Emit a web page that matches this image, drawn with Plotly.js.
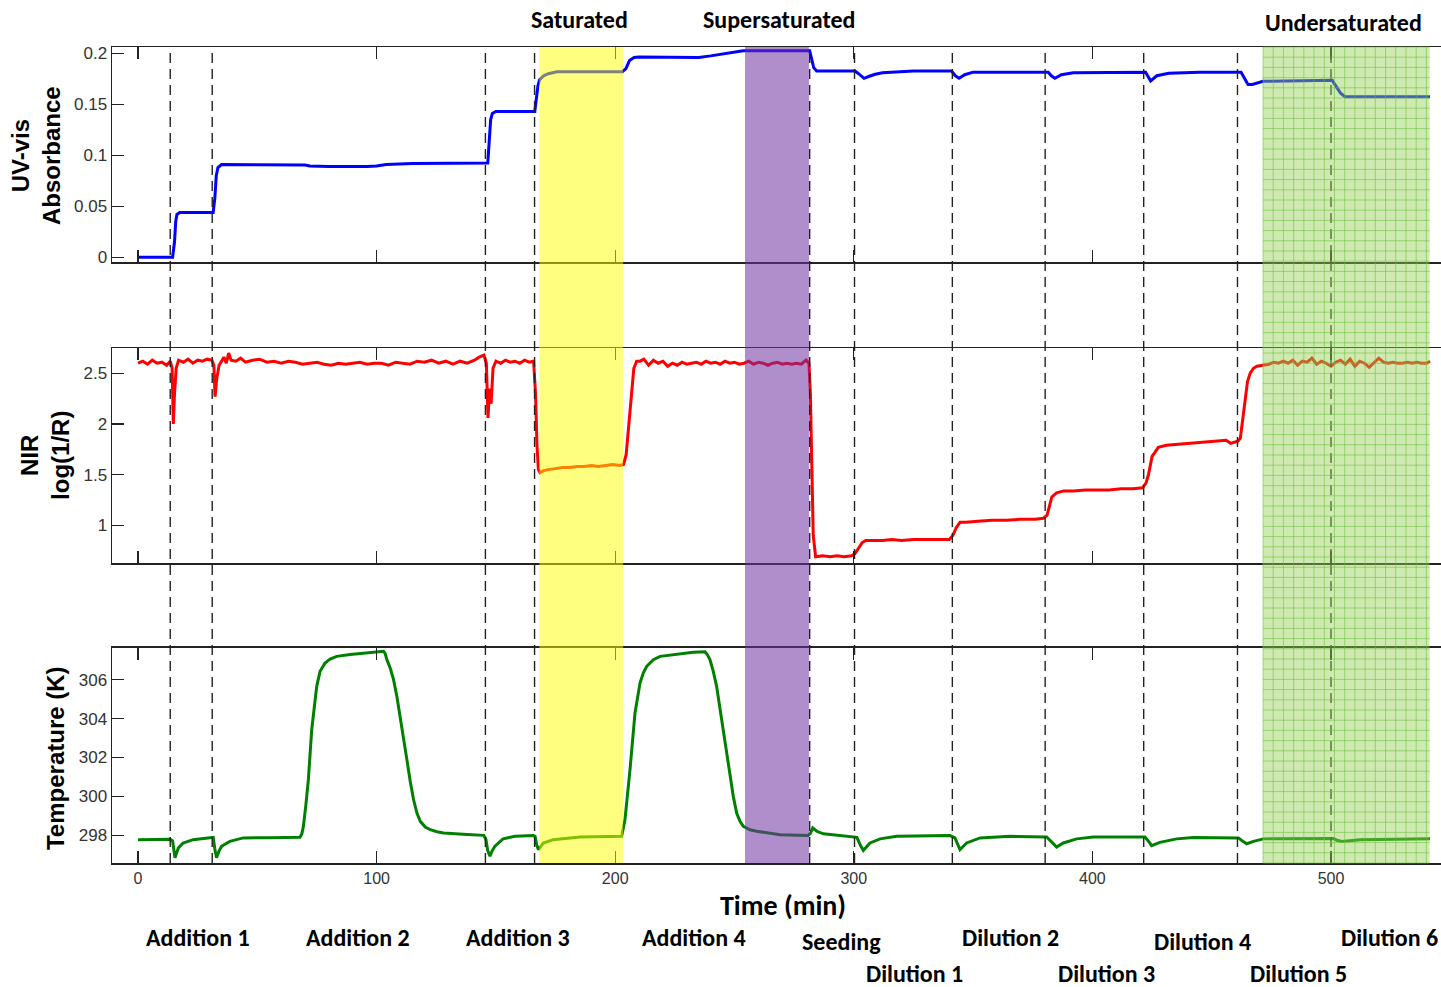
<!DOCTYPE html>
<html>
<head>
<meta charset="utf-8">
<script src="https://cdn.plot.ly/plotly-3.0.1.min.js"></script>
<style>html,body{margin:0;padding:0;background:#fff;}#chart{width:1441px;height:987px;}</style>
</head>
<body>
<div id="chart"></div>
<script>
// ---------- DATA ----------
// UV-vis absorbance (top panel)
const uvTime = [
  0, 14.5, 15.3, 15.8, 16.3, 17.5,
  31.5, 32.2, 32.8, 33.5, 35, 55, 70, 72, 80, 96, 100, 104, 115,
  146.6, 147.2, 147.8, 148.5, 150,
  166.3, 167, 167.6, 168.3, 170, 172, 175.5,
  203, 204.5, 206, 207.9, 210, 235, 240, 245, 250, 253.6,
  281.5, 282.3, 283.2, 284.4,
  300.5, 302, 304.3, 306.5, 309, 312, 325,
  341, 342.5, 344.1, 346.5, 350,
  381.5, 382.8, 384.3, 387, 392,
  422.3, 423.5, 424.4, 427, 432, 445,
  462.3, 463.5, 465.2, 467, 471.5,
  500.5, 502, 504, 505.9, 541.5
];
const uvAbs = [
  0, 0, 0.015, 0.035, 0.042, 0.044,
  0.044, 0.058, 0.08, 0.088, 0.091, 0.091, 0.0905, 0.0895, 0.089, 0.089, 0.0895, 0.091, 0.092,
  0.0925, 0.12, 0.135, 0.141, 0.143,
  0.143, 0.155, 0.168, 0.174, 0.178, 0.18, 0.182,
  0.182, 0.185, 0.193, 0.196, 0.1965, 0.196, 0.1975, 0.1995, 0.2015, 0.2025,
  0.2025, 0.195, 0.186, 0.1826,
  0.1826, 0.18, 0.1755, 0.1775, 0.1795, 0.181, 0.1826,
  0.1826, 0.178, 0.1755, 0.179, 0.1815,
  0.1815, 0.178, 0.1755, 0.179, 0.181,
  0.1815, 0.177, 0.173, 0.178, 0.1805, 0.1815,
  0.1815, 0.1765, 0.1695, 0.1695, 0.1725,
  0.1735, 0.168, 0.161, 0.1575, 0.1575
];

// NIR log(1/R) (middle panel)
const nirTime = [
  0, 2, 4, 6, 8, 10, 12, 13.5,
  14.3, 14.8, 15.3, 16, 17,
  19, 21, 23, 25, 27, 29, 31,
  31.8, 32.3, 33, 34, 35,
  36, 37, 38, 39, 41, 43, 45,
  48, 51, 54, 57, 60, 63, 66, 69, 72, 75, 78, 81, 84, 87, 90, 93,
  96, 99, 102, 105, 108, 111, 114, 117, 120, 123, 126, 129, 132, 135, 138, 141,
  143, 145, 146, 146.7, 147.3, 148, 148.8, 150, 152, 154, 156, 158, 160, 162, 164, 165.8,
  166.6, 167.2, 167.8, 168.5, 170, 172, 175, 178, 181, 184, 187, 190, 193, 196, 199, 202, 203.5,
  204.6, 205.5, 206.2, 207, 207.8, 209, 210.4,
  212, 214, 216, 218, 220, 222, 224, 226, 228, 230, 232, 234, 236, 238, 240, 242, 244, 246,
  248, 250, 252, 254, 256, 258, 260, 262, 264, 266, 268, 270, 272, 274, 276, 278, 280, 281.2,
  281.8, 282.4, 283, 284, 287, 290, 293, 296, 299,
  300.5, 302, 303.5, 305, 308, 312, 316, 320, 325, 330, 335, 340,
  341.5, 343, 344.5, 347, 352, 358, 364, 370, 376, 379.5,
  381, 382, 383, 385, 388, 392, 397, 402, 407, 412, 417, 421,
  422.5, 423.5, 424.2, 425, 426.2, 427.6, 431, 436, 441, 446, 451, 456, 458, 461,
  462, 463, 464, 465, 466.1, 467.5, 469, 471.5,
  474, 476, 478, 480, 482, 484, 486, 488, 490, 492, 494, 496, 498, 500, 502, 504, 506, 508,
  510, 512, 514, 516, 518, 520, 522, 524, 526, 528, 530, 532, 534, 536, 538, 540, 541.5
];
const nirLog = [
  2.60, 2.62, 2.59, 2.63, 2.60, 2.61, 2.58, 2.62,
  2.55, 2.00, 2.30, 2.55, 2.63,
  2.61, 2.64, 2.60, 2.63, 2.62, 2.64, 2.63,
  2.58, 2.27, 2.45, 2.58, 2.62,
  2.66, 2.60, 2.70, 2.63, 2.62, 2.65, 2.61,
  2.63, 2.64, 2.61, 2.62, 2.60, 2.62, 2.61, 2.59, 2.60, 2.61, 2.59, 2.58, 2.60, 2.59, 2.60, 2.61,
  2.59, 2.60, 2.60, 2.58, 2.61, 2.60, 2.59, 2.62, 2.61, 2.63, 2.60, 2.62, 2.59, 2.62, 2.60, 2.63,
  2.66, 2.68, 2.60, 2.06, 2.35, 2.20, 2.55, 2.62, 2.60, 2.63, 2.61, 2.62, 2.60, 2.63, 2.61, 2.62,
  2.30, 1.80, 1.55, 1.52, 1.54, 1.55, 1.56, 1.57, 1.57, 1.58, 1.58, 1.59, 1.58, 1.59, 1.60, 1.59, 1.60,
  1.70, 1.95, 2.10, 2.35, 2.55, 2.62, 2.62,
  2.64, 2.58, 2.63, 2.60, 2.62, 2.57, 2.60, 2.58, 2.61, 2.59, 2.60, 2.61, 2.59, 2.62, 2.60, 2.61, 2.59, 2.62,
  2.60, 2.61, 2.59, 2.60, 2.62, 2.59, 2.61, 2.60, 2.58, 2.60, 2.61, 2.59, 2.60, 2.59, 2.60, 2.59, 2.63, 2.60,
  2.30, 1.51, 0.90, 0.69, 0.70, 0.69, 0.70, 0.69, 0.70,
  0.72, 0.78, 0.83, 0.85, 0.85, 0.85, 0.86, 0.85, 0.86, 0.86, 0.86, 0.86,
  0.90, 0.98, 1.03, 1.03, 1.04, 1.05, 1.05, 1.06, 1.06, 1.07,
  1.10, 1.20, 1.28, 1.32, 1.34, 1.34, 1.35, 1.35, 1.35, 1.36, 1.36, 1.37,
  1.42, 1.50, 1.60, 1.68, 1.72, 1.77, 1.79, 1.80, 1.81, 1.82, 1.83, 1.84, 1.81, 1.83,
  1.86, 2.05, 2.27, 2.42, 2.50, 2.55, 2.57, 2.58,
  2.59, 2.61, 2.60, 2.62, 2.60, 2.63, 2.58, 2.62, 2.61, 2.65, 2.59, 2.62, 2.60, 2.57, 2.61, 2.63, 2.59, 2.64,
  2.57, 2.62, 2.60, 2.56, 2.61, 2.65, 2.61, 2.60, 2.61, 2.60, 2.60, 2.61, 2.60, 2.61, 2.60, 2.60, 2.62
];

// Temperature (bottom panel)
const tempTime = [
  0, 13.5, 14.5, 15.0, 15.5, 16.2, 16.9, 18.9, 23.1, 30.2,
  31.5, 32.2, 32.9, 33.8, 35, 38.5, 44.1, 55, 67.9,
  68.7, 69.3, 70.3, 71.4, 72.8, 74.9, 76.3, 78.4, 80.5, 83.3, 88.9, 93.1, 98.7, 102.9,
  103.6, 104.3, 105.7, 107.1, 108.5, 109.9, 111.3, 112.7, 114.1, 115.5, 116.9, 118.3,
  120.4, 122.5, 125.3, 128.1, 137.9, 144.9,
  145.8, 146.6, 147.5, 148.4, 149.6, 153, 158, 165.7,
  166.4, 167.1, 167.8, 169.9, 174, 185.2, 202.7,
  204.1, 206.2, 208.3, 210.4, 211.8, 213.2, 216, 218.8, 227.1, 232.7, 237.6,
  238.6, 239.7, 241.1, 242.5, 243.9, 245.3, 246.7, 248.1, 249.5, 250.9, 252.3, 253.7,
  256.5, 259.3, 269.1, 280.9,
  281.8, 282.8, 284.5, 287.3, 299.9,
  301.3, 302.7, 304, 306.8, 311, 318, 340.3,
  342.4, 343.5, 344.5, 347.3, 352.9, 365.5, 380.8,
  383, 385, 387.8, 393.4, 400.4, 422,
  423.5, 424.8, 428.3, 435.3, 442.3, 461.2,
  463, 464.7, 467.5, 471.6, 500.9,
  502.5, 504.5, 508, 512.2, 541.5
];
const tempK = [
  297.78, 297.8, 297.72, 297.2, 296.85, 297.1, 297.35, 297.61, 297.78, 297.88,
  297.9, 297.3, 296.85, 297.15, 297.44, 297.69, 297.87, 297.88, 297.9,
  298.1, 298.46, 299.5, 300.86, 303.43, 305.66, 306.43, 306.86, 307.06, 307.2, 307.29, 307.34, 307.41, 307.46,
  307.34, 307.03, 306.6, 306.0, 305.14, 304.11, 303.0, 301.89, 300.77, 299.83, 299.15, 298.72,
  298.43, 298.29, 298.19, 298.12, 298.05, 298.0,
  297.8, 297.2, 296.93, 297.2, 297.44, 297.82, 297.95, 297.99,
  297.95, 297.5, 297.27, 297.61, 297.78, 297.92, 297.95,
  298.81, 301.38, 304.29, 305.83, 306.35, 306.69, 307.03, 307.2, 307.34, 307.41, 307.44,
  307.29, 307.03, 306.43, 305.66, 304.55, 303.43, 302.24, 301.03, 300.0, 299.15, 298.72, 298.46,
  298.29, 298.21, 298.03, 297.99,
  298.1, 298.38, 298.21, 298.08, 297.95,
  297.9, 297.5, 297.23, 297.61, 297.82, 297.95, 297.99,
  297.87, 297.5, 297.27, 297.61, 297.87, 297.95, 297.92,
  297.65, 297.4, 297.61, 297.82, 297.92, 297.92,
  297.7, 297.47, 297.64, 297.82, 297.89, 297.87,
  297.7, 297.57, 297.69, 297.82, 297.84,
  297.75, 297.69, 297.74, 297.78, 297.82
];

// Event markers (dashed lines) and labels
const eventTimes = [13.5, 31.1, 145.6, 166.2, 281.5, 300.3, 341.3, 380.2, 421.5, 460.8, 500.0];
const eventLabels = ['Addition 1','Addition 2','Addition 3','Addition 4','Seeding',
                     'Dilution 1','Dilution 2','Dilution 3','Dilution 4','Dilution 5','Dilution 6'];
// Shaded state regions
const regionNames = ['Saturated', 'Supersaturated', 'Undersaturated'];
const regionStart = [168.2, 254.4, 471.5];
const regionEnd   = [203.3, 281.2, 541.3];

// ---------- LAYOUT ----------
const xRange = [-10.9, 546.1];
const tickFont = {family: 'Liberation Sans, Arial, sans-serif', size: 17, color: '#333'};
const lblFont = {family: 'Carlito, Lato, sans-serif', size: 24, color: '#000', weight: 'bold'};
const titleFont = {family: 'Liberation Sans, Arial, sans-serif', size: 24, color: '#000', weight: 'bold'};

const xCommon = {
  range: xRange, showline: true, linecolor: '#222', linewidth: 1.5, mirror: 'allticks',
  ticks: 'inside', ticklen: 12, tickwidth: 1.2, tickcolor: '#222', tick0: 0, dtick: 100,
  showgrid: false, zeroline: false
};
const yCommon = {
  showline: true, linecolor: '#222', linewidth: 1.5, mirror: false,
  ticks: 'inside', ticklen: 12, tickwidth: 1.2, tickcolor: '#222',
  showgrid: false, zeroline: false, tickfont: tickFont, ticklabelstandoff: 0
};

const traces = [
  {x: tempTime, y: tempK, xaxis: 'x', yaxis: 'y', type: 'scatter', mode: 'lines',
   line: {color: '#008000', width: 3}, hoverinfo: 'skip'},
  {x: nirTime, y: nirLog, xaxis: 'x2', yaxis: 'y2', type: 'scatter', mode: 'lines',
   line: {color: '#ff0000', width: 3}, hoverinfo: 'skip'},
  {x: uvTime, y: uvAbs, xaxis: 'x3', yaxis: 'y3', type: 'scatter', mode: 'lines',
   line: {color: '#0000ff', width: 3}, hoverinfo: 'skip'}
];

const shapes = [];
eventTimes.forEach(t => shapes.push({
  type: 'line', xref: 'x', yref: 'paper', x0: t, x1: t, y0: 0, y1: 0.994,
  line: {color: '#222', width: 1.4, dash: '10px,6px'}, layer: 'above'
}));
const regionFill = ['rgba(255,255,0,0.5)', 'rgba(112,48,160,0.55)', 'rgba(146,208,80,0.45)'];
regionStart.forEach((s, i) => shapes.push({
  type: 'rect', xref: 'x', yref: 'paper', x0: s, x1: regionEnd[i], y0: 0, y1: 1,
  fillcolor: regionFill[i], line: {width: 0}, layer: 'above'
}));
// grid hatch of the undersaturated region
(function () {
  const g0 = regionStart[2], g1 = regionEnd[2];
  let p = '';
  for (let x = g0; x <= g1 + 0.01; x += 4.28) p += 'M' + x + ',0L' + x + ',1';
  for (let k = 0; k <= 80; k++) { const y = k * 0.0125; p += 'M' + g0 + ',' + y + 'L' + g1 + ',' + y; }
  shapes.push({type: 'path', xref: 'x', yref: 'paper', path: p,
    line: {color: 'rgba(105,190,60,0.55)', width: 1}, layer: 'above'});
})();

const annotations = [];
// state labels above
const regionLblX = [0.3521, 0.5019, 0.9263];
const regionLblY = [1.0331, 1.0331, 1.0306];
regionNames.forEach((n, i) => annotations.push({
  text: n, xref: 'paper', yref: 'paper', x: regionLblX[i], y: regionLblY[i],
  xanchor: 'center', yanchor: 'middle', showarrow: false, font: lblFont
}));
// event labels below
const evLblX = [0.0647, 0.1851, 0.3055, 0.4379, 0.5489, 0.6038, 0.6761, 0.7483, 0.8205, 0.8928, 0.9995];
const evLblY = [-0.0907, -0.0907, -0.0907, -0.0907, -0.0956, -0.1360, -0.0907, -0.1360, -0.0956, -0.1360, -0.0907];
eventLabels.forEach((n, i) => annotations.push({
  text: n, xref: 'paper', yref: 'paper', x: evLblX[i], y: evLblY[i],
  xanchor: i === 10 ? 'right' : 'center', yanchor: 'middle', showarrow: false, font: lblFont
}));
annotations.push({text: 'Time (min)', xref: 'paper', yref: 'paper', x: 0.5049, y: -0.0515,
  xanchor: 'center', yanchor: 'middle', showarrow: false,
  font: {family: 'Carlito, Lato, sans-serif', size: 28, color: '#000', weight: 'bold'}});
// y-axis titles
annotations.push({text: 'UV-vis<br>Absorbance', xref: 'paper', yref: 'paper', x: -0.0572, y: 0.8676,
  xanchor: 'center', yanchor: 'middle', textangle: -90, showarrow: false, font: titleFont});
annotations.push({text: 'NIR<br>log(1/R)', xref: 'paper', yref: 'paper', x: -0.0505, y: 0.5,
  xanchor: 'center', yanchor: 'middle', textangle: -90, showarrow: false, font: titleFont});
annotations.push({text: 'Temperature (K)', xref: 'paper', yref: 'paper', x: -0.0421, y: 0.1287,
  xanchor: 'center', yanchor: 'middle', textangle: -90, showarrow: false, font: titleFont});

const layout = {
  width: 1441, height: 987,
  margin: {l: 112, r: 0, t: 47, b: 124},
  paper_bgcolor: '#fff', plot_bgcolor: 'rgba(0,0,0,0)',
  showlegend: false,
  xaxis: Object.assign({}, xCommon, {anchor: 'y', showticklabels: true, ticklabelstandoff: 0,
    tickfont: {family: 'Liberation Sans Narrow, Arial Narrow, Liberation Sans, sans-serif', size: 16, color: '#333'}}),
  xaxis2: Object.assign({}, xCommon, {anchor: 'y2', matches: 'x', showticklabels: false}),
  xaxis3: Object.assign({}, xCommon, {anchor: 'y3', matches: 'x', showticklabels: false}),
  yaxis: Object.assign({}, yCommon, {domain: [0, 0.2635], range: [296.58, 307.63], tick0: 298, dtick: 2}),
  yaxis2: Object.assign({}, yCommon, {domain: [0.3676, 0.6311], range: [0.628, 2.75], tick0: 1, dtick: 0.5}),
  yaxis3: Object.assign({}, yCommon, {domain: [0.7365, 1], range: [-0.0046, 0.2062], tick0: 0, dtick: 0.05}),
  shapes: shapes,
  annotations: annotations
};

Plotly.newPlot('chart', traces, layout, {displayModeBar: false, staticPlot: true});
</script>
</body>
</html>
